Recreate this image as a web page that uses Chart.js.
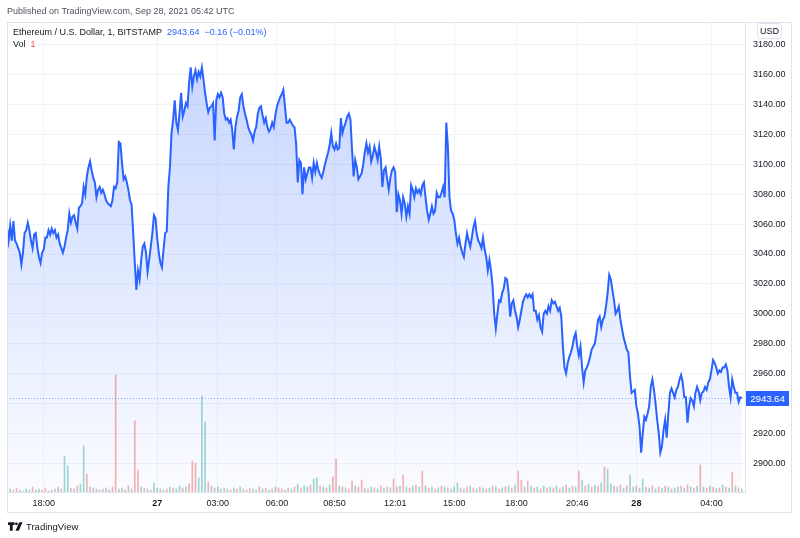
<!DOCTYPE html>
<html>
<head>
<meta charset="utf-8">
<script src="https://cdn.jsdelivr.net/npm/chart.js@4.4.0/dist/chart.umd.min.js"></script>
<style>
html, body { margin: 0; padding: 0; background: #fff; }
#wrap { position: relative; width: 800px; height: 538px; font-family: "Liberation Sans", Arial, sans-serif; color: #131722; }
#wrap canvas { position: absolute; left: 0; top: 0; }
.t { position: absolute; white-space: nowrap; font-size: 9px; line-height: 11px; }
.blue { color: #2962ff; }
#usd { position: absolute; left: 757px; top: 23px; width: 23px; height: 14px; border: 1px solid #e0e3eb; border-radius: 3px; font-size: 9px; line-height: 14px; text-align: center; background: #fff; }
#last { position: absolute; left: 746px; top: 390px; width: 43px; height: 15px; background: #2962ff; color: #fff; font-size: 9.5px; line-height: 15px; text-align: center; }
#logo { position: absolute; left: 8px; top: 521px; font-size: 9.5px; line-height: 11px; }
#logo svg { vertical-align: -1px; margin-right: 3px; }
</style>
</head>
<body>
<div id="wrap">
<canvas id="chart" width="800" height="538"></canvas>
<div class="t" style="left:7px;top:6px;color:#50535e">Published on TradingView.com, Sep 28, 2021 05:42 UTC</div>
<div class="t" style="left:13px;top:27px">Ethereum / U.S. Dollar, 1, BITSTAMP&nbsp; <span class="blue">2943.64</span>&nbsp; <span class="blue">−0.16 (−0.01%)</span></div>
<div class="t" style="left:13px;top:39px">Vol&nbsp; <span style="color:#ef5350">1</span></div>
<div id="usd">USD</div>
<div id="last">2943.64</div>
<div id="logo"><svg width="15" height="9" viewBox="0 0 16 9"><path d="M0 0h7v3H5v6H2V3H0z" fill="#131722"/><circle cx="9" cy="1.6" r="1.5" fill="#131722"/><path d="M8 9L12 0h3.5l-4 9z" fill="#131722"/></svg>TradingView</div>
</div>
<script>
// 1-minute ETH/USD, sampled roughly every 5 minutes (bar index on x)
const prices = [
	3058,3049,3059,3049,3062,3049,3047,3044,3041,3033,
	3041,3054,3056,3061,3056,3049,3044,3053,3054,3044,
	3038,3034,3041,3043,3051,3051,3056,3053,3057,3054,
	3056,3051,3053,3047,3044,3041,3045,3051,3056,3067,
	3061,3065,3066,3061,3057,3071,3072,3074,3085,3080,
	3092,3098,3102,3096,3091,3088,3078,3083,3085,3081,
	3083,3080,3076,3074,3073,3072,3076,3085,3084,3088,
	3115,3114,3101,3090,3092,3088,3083,3076,3073,3054,
	3034,3016,3029,3023,3036,3045,3047,3041,3028,3036,
	3045,3054,3066,3064,3051,3041,3034,3031,3043,3054,
	3055,3085,3098,
	3121,3130,3143,3128,3123,3134,3148,3132,3136,3141,
	3139,3155,3165,3152,3159,3163,3157,3162,3159,3165,
	3157,3148,3141,3135,3138,3139,3141,3116,3143,3147,
	3145,3148,3145,3134,3130,3131,3128,3130,3123,3110,
	3125,3132,3136,3145,3147,3139,3134,3130,3125,3122,
	3120,3116,3122,3125,3134,3138,3139,3133,3128,3131,
	3125,3122,3124,3128,3125,3133,3139,3142,3145,3147,
	3150,3139,3128,3128,3130,3128,3126,3125,3114,3088,
	3103,3101,3080,3098,3090,3094,3098,
	3098,3091,3101,3095,3101,3096,3093,3091,3095,3100,
	3104,3108,3113,3121,3112,3110,3114,3110,3111,3131,
	3121,3125,3128,3132,3134,3130,3110,3092,3103,3098,
	3090,3092,3094,3100,3108,3114,3108,3112,3102,3106,
	3112,3108,3103,3112,3104,3085,3096,3098,3090,3083,
	3091,3096,3098,3095,3068,3080,3076,3067,3078,3074,
	3065,3072,3067,3086,3083,3078,3084,3081,3083,3080,
	3086,3088,3078,3069,3063,3067,3072,3067,3069,3081,
	3078,3078,3081,3085,3078,3128,3112,3078,3069,3067,
	3063,3054,3047,3051,3045,3041,3038,3047,3054,3049,
	3045,3051,
	3058,3062,3054,3049,3047,3044,3051,3043,3038,3029,
	3036,3029,3018,3000,2990,3000,3009,3008,3014,3017,
	3024,3023,3014,2998,3007,3009,3002,2998,2991,2996,
	3002,3008,3011,3013,3011,3013,3011,3013,3002,3002,
	2996,2999,2991,2988,3000,3002,3000,3005,3002,3009,
	3007,3008,3005,3002,3004,2998,2978,2964,2960,2967,
	2971,2974,2978,2984,2987,2978,2972,2978,2964,2954,
	2962,2964,2967,2971,2976,2978,2980,2987,2996,2998,
	2991,2996,2998,3005,3014,3026,3023,3016,3009,3000,
	3002,3005,2996,2990,2984,2980,2976,2974,2958,2947,
	2948,2949,
	2938,2933,2924,2907,2920,2931,2929,2933,2938,2951,
	2956,2949,2940,2929,2920,2907,2911,2922,2929,2917,
	2933,2947,2950,2947,2944,2949,2951,2956,2959,2954,
	2944,2944,2927,2938,2943.5,2942,2938,2947,2951,2948,
	2942,2947,2948,2951,2949,2954,2956,2962,2969,2967,
	2964,2960,2962,2961,2964,2964,2966,2962,2951,2944,
	2956,2951,2947,2947,2941,2944,2943.64
];
const lastPrice = 2943.64;

// volume, one bar for every 2nd price sample
const volume = [
	15,3,2,4,2,1,3,2,5,2, 3,2,4,1,2,3,5,3,36,26,
	4,3,6,8,46,18,5,4,3,2, 3,4,2,5,117,3,4,2,6,3,
	71,22,5,4,3,2,9,4,3,2, 3,5,4,3,6,4,5,8,31,29,
	14,96,70,10,6,4,5,3,4,3, 2,4,3,5,3,2,4,3,2,5,
	3,4,2,3,5,4,3,2,4,3, 5,8,4,6,5,7,13,14,6,5,
	4,7,15,33,6,5,4,3,11,6, 5,12,4,3,5,4,3,6,4,5,
	4,13,5,6,17,5,4,6,7,5, 21,6,4,5,3,4,6,5,4,3,
	5,9,4,3,5,6,4,3,5,4, 3,4,6,5,3,4,5,6,4,7,
	21,12,5,11,6,4,5,3,6,4, 5,4,6,3,5,7,4,6,5,21,
	12,6,8,5,7,6,9,25,23,8, 6,5,7,4,6,17,5,6,4,13,
	5,4,6,3,5,4,6,5,3,4, 5,6,4,7,5,4,6,27,5,4,
	6,5,3,4,7,5,4,20,6,4, 3
];
// candle side of each volume bar: u = up, d = down
const volSides =
	'dudduduudu' + 'uddududuuu' + 'duduududud' + 'ududdududu' + 'ddududuudu' +
	'duduududdd' + 'uuududuudu' + 'dudududuud' + 'udududdudu' + 'duduuduudu' +
	'duddududdu' + 'ddudududud' + 'uddudududu' + 'dududududu' + 'uududududu' +
	'dududududu' + 'ddudududud' + 'ududududud' + 'ududududuu' + 'dududuuduu' +
	'dududududu' + 'ududududud' + 'ududududud' + 'u';

const tickIdx = [23, 94, 132, 169, 205, 243, 280, 319, 357, 394, 441];
const tickLabels = ['18:00', '27', '03:00', '06:00', '08:50', '12:01', '15:00', '18:00', '20:46', '28', '04:00'];
const dayLabels = ['27', '28'];
const priceTicks = [2900, 2920, 2940, 2960, 2980, 3000, 3020, 3040, 3060, 3080, 3100, 3120, 3140, 3160, 3180];

const upCol = 'rgba(38,166,154,0.45)';
const downCol = 'rgba(239,83,80,0.45)';

Chart.defaults.font.family = '"Liberation Sans", Arial, sans-serif';
Chart.defaults.font.size = 9;
Chart.defaults.color = '#131722';

const framePlugin = {
	id: 'frame',
	afterDatasetsDraw(chart){
		const {ctx, chartArea: a, scales} = chart;
		const y = Math.round(scales.y.getPixelForValue(lastPrice)) + 0.5;
		ctx.save();
		ctx.strokeStyle = 'rgba(41,98,255,0.55)';
		ctx.lineWidth = 1;
		ctx.setLineDash([1, 2]);
		ctx.beginPath();
		ctx.moveTo(a.left, y);
		ctx.lineTo(a.right, y);
		ctx.stroke();
		ctx.restore();
		document.getElementById('last').style.top = (y - 8) + 'px';
	},
	afterDraw(chart){
		const {ctx, chartArea: a, scales} = chart;
		ctx.save();
		ctx.strokeStyle = '#e0e3eb';
		ctx.lineWidth = 1;
		ctx.strokeRect(a.left + 0.5, a.top + 0.5, scales.y.right - a.left - 1, scales.x.bottom - a.top - 1);
		ctx.restore();
	}
};

new Chart(document.getElementById('chart'), {
	data: {
		datasets: [{
			type: 'line',
			data: prices.map((p, i) => ({x: i, y: p})),
			yAxisID: 'y',
			borderColor: '#2962ff',
			borderWidth: 2,
			pointRadius: 0,
			tension: 0,
			fill: 'start',
			backgroundColor: (c) => {
				const a = c.chart.chartArea;
				if(!a) return 'rgba(41,98,255,0.15)';
				const g = c.chart.ctx.createLinearGradient(0, a.top, 0, a.bottom);
				g.addColorStop(0, 'rgba(41,98,255,0.28)');
				g.addColorStop(1, 'rgba(41,98,255,0.02)');
				return g;
			},
			order: 0
		}, {
			type: 'bar',
			data: volume.map((v, i) => ({x: i * 2, y: v})),
			yAxisID: 'yVol',
			backgroundColor: volume.map((v, i) => volSides[i] === 'u' ? upCol : downCol),
			barThickness: 1,
			order: 1
		}]
	},
	options: {
		responsive: false,
		animation: false,
		layout: {padding: {left: 7, top: 22, right: 8, bottom: 25}},
		plugins: {legend: {display: false}, tooltip: {enabled: false}},
		scales: {
			x: {
				type: 'linear',
				offset: false,
				min: 0,
				max: 462,
				afterBuildTicks: (s) => { s.ticks = tickIdx.map(v => ({value: v})); },
				afterFit: (s) => { s.height = 21; },
				ticks: {
					autoSkip: false,
					maxRotation: 0,
					padding: 6,
					color: '#131722',
					callback: (v, i) => tickLabels[i],
					font: (c) => ({weight: dayLabels.includes(tickLabels[c.index]) ? 'bold' : 'normal'})
				},
				grid: {color: '#f0f3fa', drawTicks: false, offset: false},
				border: {color: '#e0e3eb'}
			},
			y: {
				type: 'linear',
				position: 'right',
				min: 2880.6,
				max: 3195.4,
				afterBuildTicks: (s) => { s.ticks = priceTicks.map(v => ({value: v})); },
				afterFit: (s) => { s.width = 47; },
				ticks: {padding: 8, color: '#131722', callback: (v) => v.toFixed(2)},
				grid: {color: '#f0f3fa', drawTicks: false},
				border: {color: '#e0e3eb'}
			},
			yVol: {
				type: 'linear',
				display: false,
				min: 0,
				max: 470
			}
		}
	},
	plugins: [framePlugin]
});
</script>
</body>
</html>
